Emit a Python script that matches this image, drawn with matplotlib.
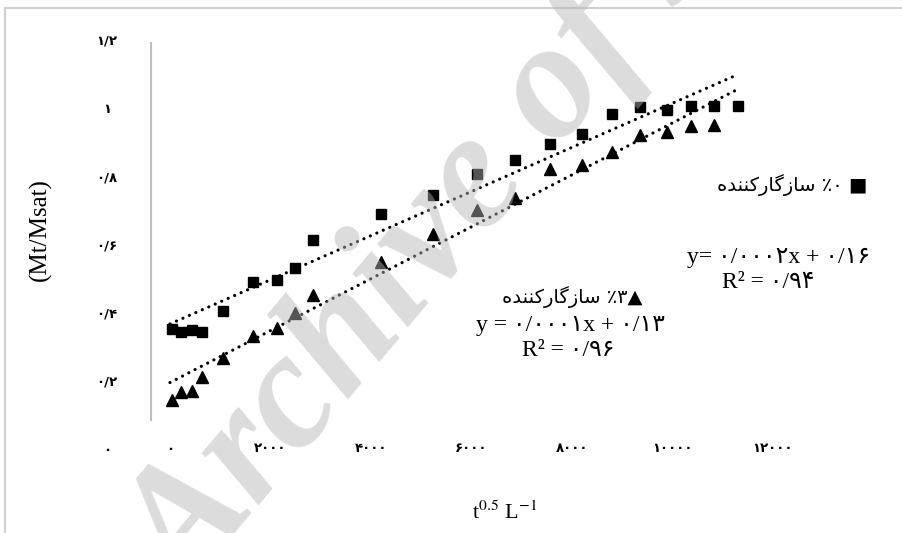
import numpy as np
import matplotlib
matplotlib.use("Agg")
import matplotlib.pyplot as plt
from matplotlib.patches import Rectangle

# values (x = t^0.5 L^-1, y = Mt/Msat)
x_tri = [40, 220, 440, 640, 1060, 1650, 2130, 2490, 2850, 4200,
         5240, 6120, 6870, 7570, 8210, 8800, 9360, 9900, 10380, 10840]
x_sq = x_tri + [11320]
y_sq = [0.352, 0.344, 0.349, 0.344, 0.405, 0.489, 0.495, 0.530, 0.614, 0.690,
        0.745, 0.806, 0.847, 0.894, 0.923, 0.984, 1.004, 0.996, 1.007, 1.007, 1.007]
y_tri = [0.143, 0.166, 0.169, 0.210, 0.268, 0.332, 0.355, 0.399, 0.451, 0.550,
         0.632, 0.702, 0.737, 0.821, 0.833, 0.870, 0.920, 0.929, 0.949, 0.952]

# trend lines as drawn in the reference (slope, intercept)
fit_sq = [6.47e-5, 0.367]
fit_tri = [7.61e-5, 0.195]

xticks = [0, 2000, 4000, 6000, 8000, 10000, 12000]
xtick_labels = ['۰', '۲۰۰۰', '۴۰۰۰', '۶۰۰۰', '۸۰۰۰', '۱۰۰۰۰', '۱۲۰۰۰']
yticks = [0, 0.2, 0.4, 0.6, 0.8, 1.0, 1.2]
ytick_labels = ['۰', '۰/۲', '۰/۴', '۰/۶', '۰/۸', '۱', '۱/۲']

# "سازگارکننده" in presentation forms, visual order
word = '\uFEE9\uFEAA\uFEE8\uFEE8\uFB90\uFEAD\uFE8E\uFB94\uFEAF\uFE8E\uFEB3'
label_sq = word + ' ٪۰ ■'
label_tri = word + ' ٪۳▲'
eq_sq = 'y= ۰/۰۰۰۲x + ۰/۱۶'
r2_sq = 'R² = ۰/۹۴'
eq_tri = 'y = ۰/۰۰۰۱x + ۰/۱۳'
r2_tri = 'R² = ۰/۹۶'

plt.rcParams['mathtext.fontset'] = 'stix'
W, H = 903, 533
fig = plt.figure(figsize=(W / 100, H / 100), dpi=100)


def fx(px):
    return px / W


def fy(py):
    return 1 - py / H


ax = fig.add_axes([fx(151), fy(449), fx(880) - fx(151), (449 - 40) / H])
ax.set_xlim(-378, 14143)
ax.set_ylim(0, 1.1907)

xs = np.array([0, x_sq[-1]])
ax.plot(xs, fit_sq[0] * xs + fit_sq[1], color='black', lw=2.3,
        linestyle=(0, (0.01, 2.2)), dash_capstyle='round')
ax.plot(xs, fit_tri[0] * xs + fit_tri[1], color='black', lw=2.3,
        linestyle=(0, (0.01, 2.2)), dash_capstyle='round')
ax.plot(x_sq, y_sq, 's', color='black', markersize=6.5, linestyle='none')
ax.plot(x_tri, y_tri, '^', color='black', markersize=8, linestyle='none')

for s in ['top', 'right', 'bottom']:
    ax.spines[s].set_visible(False)
ax.spines['left'].set_color('#bfbfbf')
ax.spines['left'].set_linewidth(1.5)
ax.spines['left'].set_bounds(0.0844, 1.1907)

ax.set_xticks(xticks)
ax.set_xticklabels(xtick_labels, fontsize=9.5, fontweight='bold', family='DejaVu Sans')
ax.set_yticks(yticks)
ax.set_yticklabels(ytick_labels, fontsize=9.5, fontweight='bold', family='DejaVu Sans')
ax.tick_params(axis='both', length=0)
ax.tick_params(axis='x', pad=0)
ax.tick_params(axis='y', pad=31.7)
for t in ax.get_xticklabels():
    t.set_verticalalignment('center')
for t in ax.get_yticklabels():
    t.set_horizontalalignment('center')

serif = ['Liberation Serif', 'DejaVu Sans']
fig.text(fx(40), fy(230), '(Mt/Msat)', rotation=90, ha='center', va='center',
         fontsize=18, family=serif)
fig.text(fx(505), fy(513), r't$^{0.5}$ L$^{-1}$', ha='center', va='center',
         fontsize=16, family=serif)

fig.text(fx(867), fy(185), label_sq, ha='right', va='center', fontsize=14,
         family=['DejaVu Sans'])
fig.text(fx(779), fy(258), eq_sq, ha='center', va='center', fontsize=17, family=serif)
fig.text(fx(768), fy(283), r2_sq, ha='center', va='center', fontsize=17, family=serif)

fig.text(fx(643), fy(297), label_tri, ha='right', va='center', fontsize=14,
         family=['DejaVu Sans'])
fig.text(fx(570), fy(326), eq_tri, ha='center', va='center', fontsize=17, family=serif)
fig.text(fx(568), fy(350), r2_tri, ha='center', va='center', fontsize=17, family=serif)

# outer frame (only left/top edges fall inside the image)
fig.patches.append(Rectangle((fx(5), -0.1), 1.2, fy(8) + 0.1, transform=fig.transFigure,
                             fill=False, edgecolor='#d0d0d0', linewidth=1.5))

# watermark over everything
fig.text(fx(189), fy(599), 'Archive of SID', rotation=50, rotation_mode='anchor',
         ha='left', va='baseline', fontsize=120, family='Liberation Serif',
         fontweight='bold', fontstyle='italic', color='#b5b5b5', alpha=0.47, zorder=50)

fig.savefig('out.png', dpi=100)
